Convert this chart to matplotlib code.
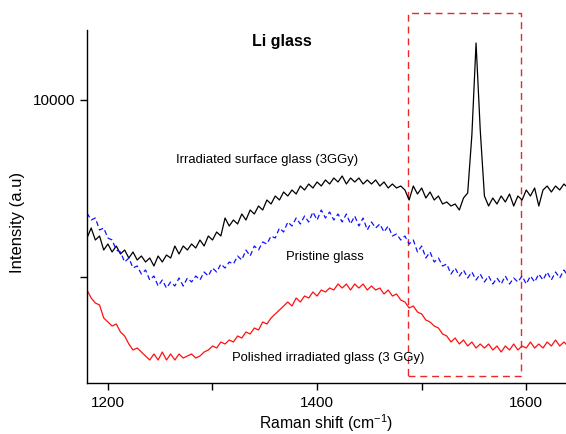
import numpy as np
import matplotlib
matplotlib.use("Agg")
import matplotlib.pyplot as plt
from matplotlib.patches import Rectangle

plt.rcParams['font.family'] = ['Liberation Sans', 'DejaVu Sans']
plt.rcParams['mathtext.fontset'] = 'custom'
plt.rcParams['mathtext.rm'] = 'Liberation Sans'
plt.rcParams['mathtext.default'] = 'regular'

raman_shift = np.arange(1180, 1641, 4)

irradiated_surface = [
    8620, 8720, 8600, 8640, 8500, 8560, 8480, 8540, 8460, 8500,
    8420, 8480, 8400, 8440, 8380, 8420, 8340, 8440, 8380, 8450,
    8420, 8540, 8460, 8540, 8500, 8560, 8520, 8600, 8540, 8640,
    8600, 8680, 8640, 8820, 8740, 8800, 8760, 8860, 8800, 8900,
    8860, 8940, 8900, 9000, 8960, 9040, 9000, 9080, 9040, 9100,
    9060, 9140, 9100, 9160, 9120, 9180, 9140, 9200, 9160, 9220,
    9180, 9240, 9160, 9220, 9180, 9220, 9160, 9200, 9160, 9200,
    9140, 9180, 9120, 9160, 9120, 9140, 9100, 9000, 9140, 9060,
    9120, 9020, 9080, 9000, 9040, 8960, 8980, 8940, 8960, 8900,
    9020, 9070, 9650, 10570, 9700, 9040, 8940, 9020, 8960, 9040,
    8980, 9060, 8940, 9040, 9000, 9100, 9040, 9120, 8940, 9100,
    9140, 9080, 9140, 9100, 9160, 9120,
]

pristine = [
    8870, 8800, 8820, 8700, 8720, 8620, 8600, 8500, 8480, 8380,
    8420, 8320, 8340, 8260, 8300, 8200, 8240, 8140, 8200, 8120,
    8180, 8140, 8220, 8140, 8220, 8180, 8240, 8200, 8280, 8240,
    8320, 8280, 8360, 8320, 8380, 8360, 8440, 8400, 8500, 8440,
    8540, 8500, 8580, 8560, 8640, 8620, 8720, 8680, 8780, 8740,
    8820, 8760, 8840, 8780, 8880, 8800, 8900, 8820, 8880, 8800,
    8860, 8780, 8860, 8760, 8840, 8740, 8820, 8700, 8780, 8720,
    8760, 8680, 8740, 8640, 8660, 8600, 8640, 8560, 8600, 8480,
    8540, 8420, 8480, 8380, 8420, 8340, 8360, 8260, 8320, 8240,
    8300, 8220, 8280, 8200, 8260, 8180, 8240, 8160, 8220, 8160,
    8240, 8160, 8220, 8180, 8240, 8160, 8240, 8180, 8260, 8200,
    8280, 8200, 8280, 8220, 8300, 8240,
]

polished_irradiated = [
    8100, 8020, 7970, 7950, 7820, 7780, 7740, 7760, 7680, 7640,
    7560, 7500, 7520, 7480, 7440, 7400, 7460, 7400, 7480, 7400,
    7460, 7400, 7460, 7420, 7440, 7460, 7420, 7440, 7480, 7500,
    7540, 7520, 7580, 7560, 7600, 7580, 7640, 7620, 7680, 7660,
    7720, 7700, 7780, 7760, 7820, 7860, 7900, 7940, 7980, 7940,
    8020, 7980, 8040, 8020, 8080, 8040, 8100, 8080, 8120, 8100,
    8160, 8120, 8160, 8100, 8160, 8120, 8160, 8100, 8140, 8100,
    8120, 8060, 8100, 8040, 8060, 8000, 7980, 7920, 7940, 7880,
    7860, 7800, 7780, 7740, 7720, 7660, 7640, 7580, 7620, 7560,
    7600, 7540, 7580, 7520, 7560, 7520, 7560, 7500, 7540, 7480,
    7540, 7500, 7560, 7500, 7540, 7520, 7580, 7520, 7560, 7520,
    7580, 7540, 7600, 7540, 7580, 7540,
]

labels = ["Irradiated surface glass (3GGy)", "Pristine glass",
          "Polished irradiated glass (3 GGy)"]
title = "Li glass"
box_range = (1487, 1595)
box_intensity = (7240, 10870)

fig = plt.figure(figsize=(5.66, 4.34), dpi=100)
ax = fig.add_axes([0.1537, 0.1175, 0.8463, 0.8134])

ax.plot(raman_shift, irradiated_surface, color='black', lw=0.9)
ax.plot(raman_shift, pristine, color='#1010ff', lw=0.9, linestyle=(0, (4, 2.5)))
ax.plot(raman_shift, polished_irradiated, color='#ff1010', lw=0.9)

ax.set_xlim(1180, 1638)
ax.set_ylim(7170, 10700)

ax.set_xticks([1200, 1400, 1600])
ax.set_xticks([1300, 1500], minor=True)
ax.set_yticks([10000])
ax.set_yticks([8230], minor=True)
ax.set_yticklabels(['10000'])

for s in ['top', 'right']:
    ax.spines[s].set_visible(False)
for s in ['left', 'bottom']:
    ax.spines[s].set_linewidth(1.0)

ax.tick_params(which='both', direction='out', length=5, width=1, labelsize=11)
ax.tick_params(axis='x', pad=4)

ax.set_xlabel("Raman shift (cm$^{-1}$)", fontsize=11.3, labelpad=2)
ax.set_ylabel("Intensity (a.u)", fontsize=12)
ax.yaxis.set_label_coords(-0.13, 0.456)

ax.text(1366, 10580, title, fontsize=11.5, fontweight='bold', ha='center', va='center')
ax.text(1352.6, 9400, labels[0], fontsize=9.4, ha='center', va='center')
ax.text(1407.7, 8430, labels[1], fontsize=9.4, ha='center', va='center')
ax.text(1410.5, 7420, labels[2], fontsize=9.4, ha='center', va='center')

rect = Rectangle((box_range[0], box_intensity[0]), box_range[1] - box_range[0],
                 box_intensity[1] - box_intensity[0], fill=False,
                 edgecolor='#e8282a', lw=1.0, linestyle=(0, (5, 3.5)), clip_on=False)
ax.add_patch(rect)

fig.savefig("out.png", dpi=100)
